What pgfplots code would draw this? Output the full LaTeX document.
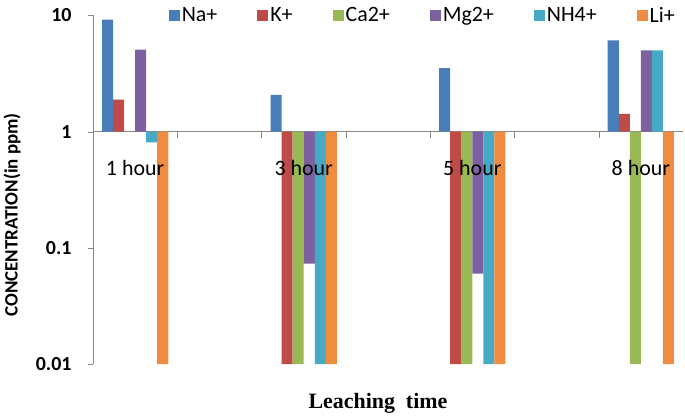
\documentclass[border=0pt]{standalone}
\usepackage{pgfplots}
\pgfplotsset{compat=1.18}
\usepackage{fontspec}
\setmainfont{Carlito}
\newfontfamily\timesfont{Liberation Serif}
\definecolor{cNa}{RGB}{74,126,187}
\definecolor{cK}{RGB}{190,75,72}
\definecolor{cCa}{RGB}{152,185,84}
\definecolor{cMg}{RGB}{125,96,160}
\definecolor{cNH}{RGB}{70,170,197}
\definecolor{cLi}{RGB}{240,140,64}
\definecolor{axisgray}{HTML}{868686}

\begin{document}
\begin{tikzpicture}
\useasboundingbox (-93bp,-54bp) rectangle (592bp,364bp);
\begin{axis}[
  at={(0,0)}, anchor=south west,
  scale only axis, width=590bp, height=348.5bp,
  ymode=log, log origin=0,
  ymin=0.01, ymax=10,
  xmin=-0.5, xmax=6.5,
  ybar=0pt, bar width=0.131,
  axis on top,
  axis y line*=left, axis x line*=bottom,
  x axis line style={draw=none},
  y axis line style={axisgray},
  ytick={0.01,0.1,1,10}, yticklabels={0.01,0.1,1,10},
  yminorticks=false,
  ytick style={axisgray}, tick align=outside, major tick length=5bp,
  yticklabel style={font=\fontsize{20}{24}\selectfont\bfseries},
  yticklabel shift=13bp,
  xtick={0,2,4,6}, xticklabels={1 hour,3 hour,5 hour,8 hour},
  xtick style={draw=none},
  xticklabel style={font=\fontsize{22}{26}\selectfont, anchor=center, yshift=201bp},
  ylabel={CONCENTRATION(in ppm)},
  ylabel style={font=\fontsize{19}{23}\selectfont\bfseries, at={(axis description cs:-0.137,0.428)}, anchor=center},
  xlabel={Leaching\ \ time},
  xlabel style={font=\timesfont\fontsize{22}{26}\selectfont\bfseries, at={(axis description cs:0.483,-0.112)}, anchor=center},
  legend columns=-1,
  legend style={draw=none, fill=none, at={(0.995,1)}, anchor=east,
    font=\fontsize{22}{26}\selectfont,
    /tikz/every even column/.append style={column sep=38bp}},
  legend image code/.code={\fill[#1] (0bp,-5.5bp) rectangle (11bp,5.5bp);},
]
% horizontal axis crossing at 1, with category separators
\draw[axisgray] (axis cs:-0.5,1) -- (axis cs:6.5,1);
\pgfplotsinvokeforeach{-0.5,0.5,1.5,2.5,3.5,4.5,5.5,6.5}{
  \draw[axisgray] (axis cs:#1,1) -- ([yshift=-6bp]axis cs:#1,1);
}
\addplot[fill=cNa, draw=none, bar shift=-0.3275] coordinates {(0,9.2) (2,2.07) (4,3.53) (6,6.1)};
\addlegendentry{Na+}
\addplot[fill=cK, draw=none, bar shift=-0.1965] coordinates {(0,1.89) (2,0.01) (4,0.01) (6,1.42)};
\addlegendentry{K+}
\addplot[fill=cCa, draw=none, bar shift=-0.0655] coordinates {(2,0.01) (4,0.01) (6,0.01)};
\addlegendentry{Ca2+}
\addplot[fill=cMg, draw=none, bar shift=0.0655] coordinates {(0,5.08) (2,0.073) (4,0.06) (6,5.0)};
\addlegendentry{Mg2+}
\addplot[fill=cNH, draw=none, bar shift=0.1965] coordinates {(0,0.81) (2,0.01) (4,0.01) (6,5.0)};
\addlegendentry{NH4+}
\addplot[fill=cLi, draw=none, bar shift=0.3275] coordinates {(0,0.01) (2,0.01) (4,0.01) (6,0.01)};
\addlegendentry{Li+}
\end{axis}
\end{tikzpicture}
\end{document}
